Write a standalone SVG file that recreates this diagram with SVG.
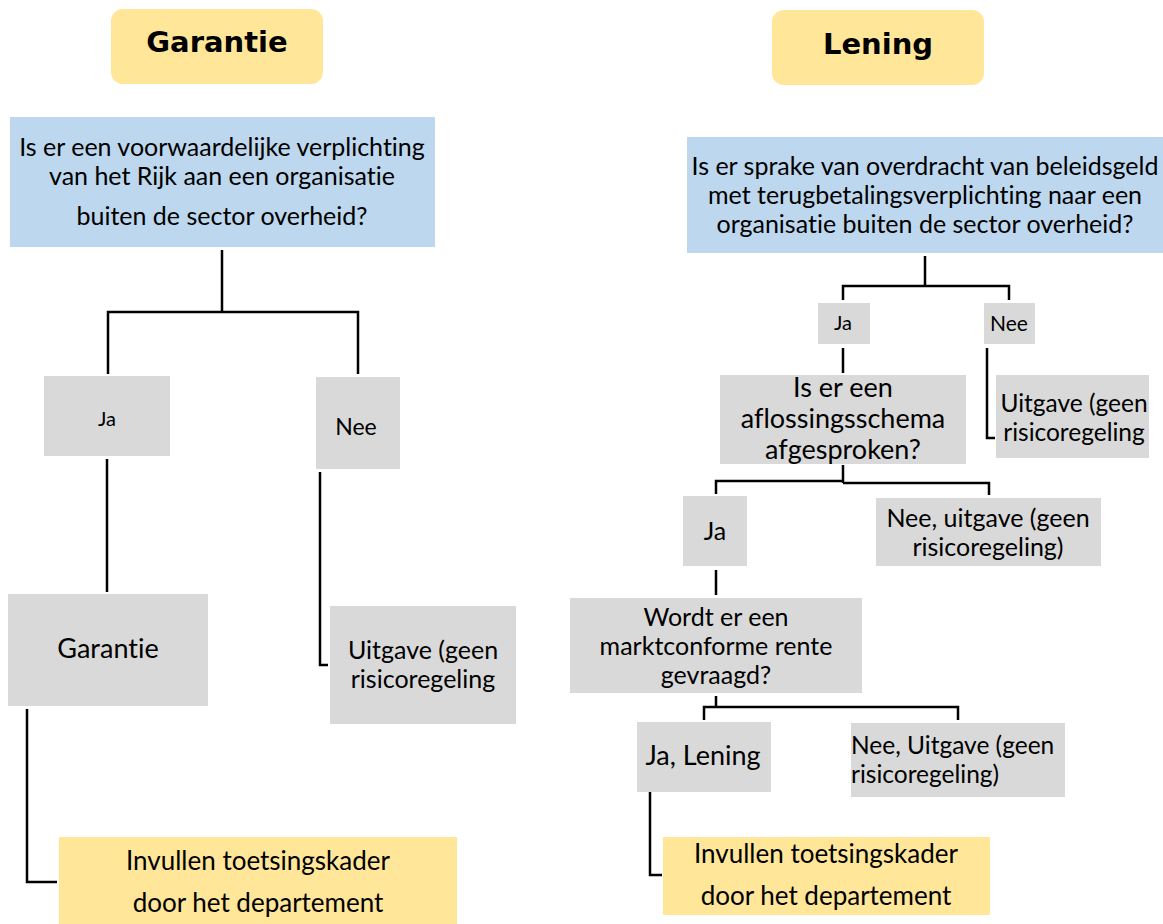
<svg xmlns="http://www.w3.org/2000/svg" width="1163" height="924" viewBox="0 0 1163 924">
<style>
.title{fill:#FFE699}
.q{fill:#BDD7EE}
.g{fill:#D9D9D9}
.y{fill:#FFE699}
text{font-family:Lato,"Liberation Sans",sans-serif;fill:#000;text-anchor:middle;font-variant-ligatures:none}
.tt{font-family:"DejaVu Sans",Verdana,sans-serif;font-weight:bold;font-size:29px}
.c path,.c line{stroke:#000;stroke-width:2.5;fill:none}
</style>
<rect width="1163" height="924" fill="#fff"/>
<g id="garantie-title"><rect class="title" x="111" y="9" width="212" height="75" rx="12"/><text class="tt" x="217" y="52">Garantie</text></g>
<g id="q-garantie"><rect class="q" x="10" y="117" width="425" height="130"/>
<text font-size="25"><tspan x="222" y="156">Is er een voorwaardelijke verplichting</tspan><tspan x="222" y="185">van het Rijk aan een organisatie</tspan><tspan x="222" y="225">buiten de sector overheid?</tspan></text></g>
<g id="ja-l"><rect class="g" x="44" y="376" width="126" height="80"/><text font-size="20" x="107" y="426">Ja</text></g>
<g id="nee-l"><rect class="g" x="316" y="377" width="84" height="92"/><text font-size="23" x="356" y="435">Nee</text></g>
<g id="garantie-box"><rect class="g" x="8" y="594" width="200" height="112"/><text font-size="27" x="108" y="658">Garantie</text></g>
<g id="uitgave-l"><rect class="g" x="330" y="606" width="186" height="118"/><text font-size="25"><tspan x="423" y="659">Uitgave (geen</tspan><tspan x="423" y="688">risicoregeling</tspan></text></g>
<g id="invullen-l"><rect class="y" x="59" y="837" width="398" height="87"/><text font-size="26"><tspan x="258" y="870">Invullen toetsingskader</tspan><tspan x="258" y="912">door het departement</tspan></text></g>

<g id="lening-title"><rect class="title" x="772" y="10" width="212" height="75" rx="12"/><text class="tt" x="878" y="54">Lening</text></g>
<g id="q-lening"><rect class="q" x="687" y="137" width="476" height="116"/>
<text font-size="25"><tspan x="925" y="175">Is er sprake van overdracht van beleidsgeld</tspan><tspan x="925" y="204">met terugbetalingsverplichting naar een</tspan><tspan x="925" y="233">organisatie buiten de sector overheid?</tspan></text></g>
<g id="ja-r1"><rect class="g" x="818" y="303" width="52" height="41"/><text font-size="20" x="843" y="330">Ja</text></g>
<g id="nee-r1"><rect class="g" x="984" y="303" width="51" height="41"/><text font-size="21" x="1009" y="331">Nee</text></g>
<g id="q-aflossing"><rect class="g" x="720" y="375" width="246" height="89"/><text font-size="27"><tspan x="843" y="397">Is er een</tspan><tspan x="843" y="428">aflossingsschema</tspan><tspan x="843" y="459">afgesproken?</tspan></text></g>
<g id="uitgave-r1"><rect class="g" x="996" y="375" width="153" height="83"/><text font-size="24.5"><tspan x="1074" y="412">Uitgave (geen</tspan><tspan x="1074" y="441">risicoregeling</tspan></text></g>
<g id="ja-r2"><rect class="g" x="683" y="496" width="64" height="70"/><text font-size="25" x="715" y="540">Ja</text></g>
<g id="nee-r2"><rect class="g" x="876" y="498" width="225" height="68"/><text font-size="25"><tspan x="988" y="527">Nee, uitgave (geen</tspan><tspan x="988" y="556">risicoregeling)</tspan></text></g>
<g id="q-rente"><rect class="g" x="570" y="598" width="292" height="95"/><text font-size="25"><tspan x="716" y="626">Wordt er een</tspan><tspan x="716" y="655">marktconforme rente</tspan><tspan x="716" y="684">gevraagd?</tspan></text></g>
<g id="ja-lening"><rect class="g" x="637" y="722" width="134" height="70"/><text font-size="27" x="703" y="765">Ja, Lening</text></g>
<g id="nee-r3"><rect class="g" x="851" y="723" width="214" height="74"/><text font-size="24.5" style="text-anchor:start"><tspan x="851" y="754">Nee, Uitgave (geen</tspan><tspan x="851" y="783">risicoregeling)</tspan></text></g>
<g id="invullen-r"><rect class="y" x="663" y="837" width="327" height="78"/><text font-size="26"><tspan x="826" y="863">Invullen toetsingskader</tspan><tspan x="826" y="905">door het departement</tspan></text></g>

<g id="connectors" class="c">
<line x1="222" y1="250" x2="222" y2="312"/>
<path d="M108 374V312H358V374"/>
<line x1="107" y1="459" x2="107" y2="592"/>
<path d="M320 472V665H328"/>
<path d="M27 709V882H57"/>
<line x1="925" y1="256" x2="925" y2="286"/>
<path d="M843 300V286H1009V300"/>
<line x1="843" y1="348" x2="843" y2="373"/>
<path d="M987 348V438H995"/>
<line x1="843" y1="465" x2="843" y2="483"/>
<path d="M716 494V481H843M843 483H989V495"/>
<line x1="716" y1="570" x2="716" y2="595"/>
<line x1="716" y1="696" x2="716" y2="708"/>
<path d="M704 720V707H958V720"/>
<path d="M650 792V875H662"/>
</g>
</svg>
